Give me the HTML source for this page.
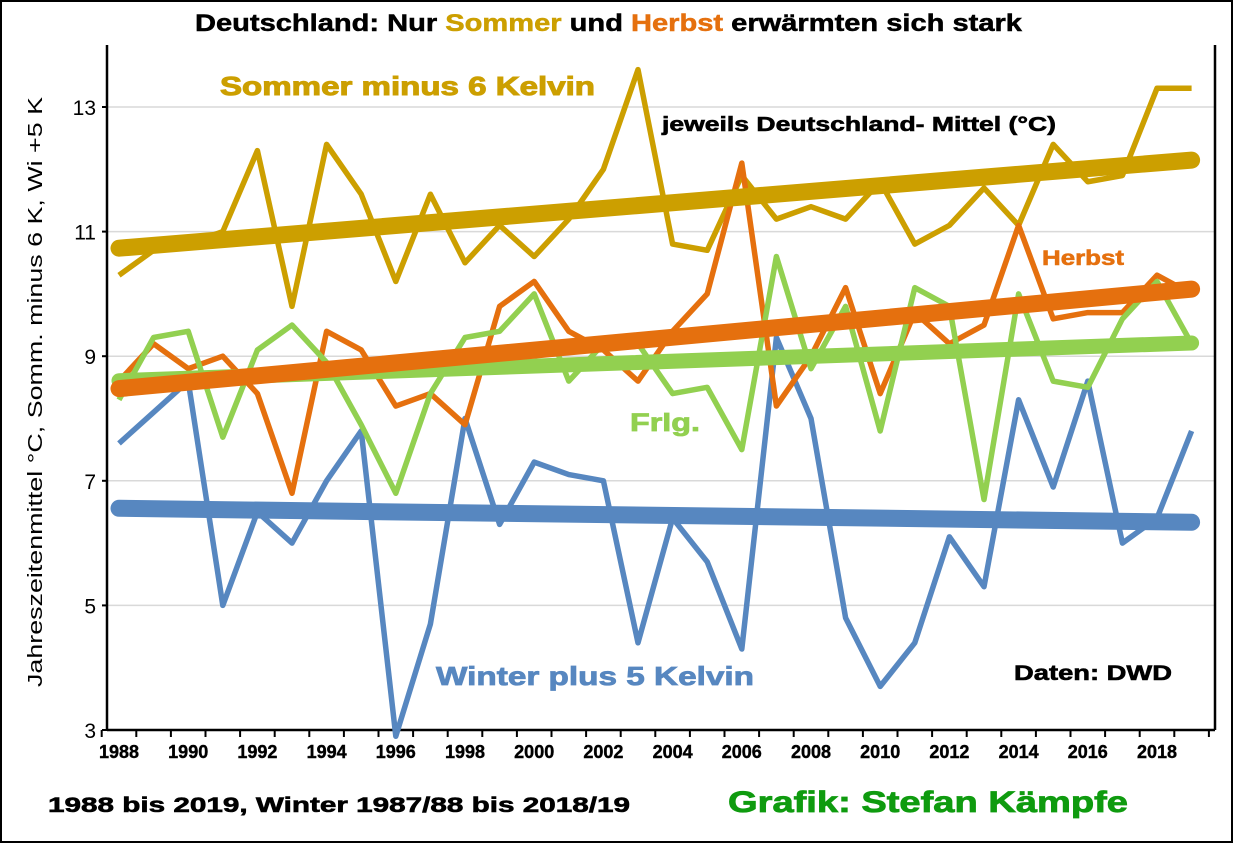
<!DOCTYPE html>
<html><head><meta charset="utf-8"><style>
body{margin:0;background:#fff;}
svg{display:block;font-family:"Liberation Sans",Arial,sans-serif;}
</style></head><body>
<svg id="chart" width="1233" height="843" viewBox="0 0 1233 843">
<rect x="1" y="1" width="1231" height="841" fill="#fff" stroke="#000" stroke-width="2"/>
<text x="195" y="31" textLength="827" lengthAdjust="spacingAndGlyphs" font-size="24" font-weight="bold" fill="#000" stroke="#000" stroke-width="0.5">Deutschland: Nur <tspan fill="#cc9f00" stroke="#cc9f00">Sommer</tspan> und <tspan fill="#e5700e" stroke="#e5700e">Herbst</tspan> erwärmten sich stark</text>
<g id="grid"></g>
<g id="axes"></g>
<g id="series"></g>
<text x="220" y="95" textLength="375" lengthAdjust="spacingAndGlyphs" font-size="26" font-weight="bold" fill="#cc9f00" stroke="#cc9f00" stroke-width="1">Sommer minus 6 Kelvin</text>
<text x="662" y="131" textLength="394" lengthAdjust="spacingAndGlyphs" font-size="20" font-weight="bold" fill="#000" stroke="#000" stroke-width="0.6">jeweils Deutschland- Mittel (°C)</text>
<text x="1042" y="265" textLength="82" lengthAdjust="spacingAndGlyphs" font-size="21" font-weight="bold" fill="#e5700e" stroke="#e5700e" stroke-width="0.6">Herbst</text>
<text x="630" y="431" textLength="70" lengthAdjust="spacingAndGlyphs" font-size="25" font-weight="bold" fill="#92d050" stroke="#92d050" stroke-width="0.8">Frlg.</text>
<text x="436" y="685" textLength="318" lengthAdjust="spacingAndGlyphs" font-size="26" font-weight="bold" fill="#5787c0" stroke="#5787c0" stroke-width="0.8">Winter plus 5 Kelvin</text>
<text x="1014" y="680" textLength="158" lengthAdjust="spacingAndGlyphs" font-size="21" font-weight="bold" fill="#000" stroke="#000" stroke-width="0.6">Daten: DWD</text>
<text x="48" y="812" textLength="582" lengthAdjust="spacingAndGlyphs" font-size="21" font-weight="bold" fill="#000" stroke="#000" stroke-width="0.6">1988 bis 2019, Winter 1987/88 bis 2018/19</text>
<text x="728" y="812" textLength="400" lengthAdjust="spacingAndGlyphs" font-size="30" font-weight="bold" fill="#0f9b0f" stroke="#0f9b0f" stroke-width="0.8">Grafik: Stefan Kämpfe</text>
<text transform="translate(42,392) rotate(-90)" text-anchor="middle" textLength="590" lengthAdjust="spacingAndGlyphs" font-size="20" fill="#000">Jahreszeitenmittel °C, Somm. minus 6 K, Wi +5 K</text>
</svg>
<script>
const years=[1988,1989,1990,1991,1992,1993,1994,1995,1996,1997,1998,1999,2000,2001,2002,2003,2004,2005,2006,2007,2008,2009,2010,2011,2012,2013,2014,2015,2016,2017,2018,2019];
const summer=[10.3,10.7,10.8,11.0,12.3,9.8,12.4,11.6,10.2,11.6,10.5,11.1,10.6,11.2,12.0,13.6,10.8,10.7,11.9,11.2,11.4,11.2,11.8,10.8,11.1,11.7,11.1,12.4,11.8,11.9,13.3,13.3];
const autumn=[8.6,9.2,8.8,9.0,8.4,6.8,9.4,9.1,8.2,8.4,7.9,9.8,10.2,9.4,9.1,8.6,9.4,10.0,12.1,8.2,9.0,10.1,8.4,9.7,9.2,9.5,11.1,9.6,9.7,9.7,10.3,10.0];
const spring=[8.3,9.3,9.4,7.7,9.1,9.5,8.9,7.9,6.8,8.4,9.3,9.4,10.0,8.6,9.2,9.2,8.4,8.5,7.5,10.6,8.8,9.8,7.8,10.1,9.8,6.7,10.0,8.6,8.5,9.6,10.2,9.2];
const winter=[7.6,8.1,8.6,5.0,6.5,6.0,7.0,7.8,2.9,4.7,8.0,6.3,7.3,7.1,7.0,4.4,6.4,5.7,4.3,9.3,8.0,4.8,3.7,4.4,6.1,5.3,8.3,6.9,8.6,6.0,6.4,7.8];
const yTicks=[3,5,7,9,11,13];
const xTickLabels=[1988,1990,1992,1994,1996,1998,2000,2002,2004,2006,2008,2010,2012,2014,2016,2018];

const NS="http://www.w3.org/2000/svg";
const L=107,R=1215,T=45,B=730;
function xs(i){return 119+i*34.6;}
function ys(v){return 730-(v-3)*62.3;}
function mk(tag,attrs,parent){const e=document.createElementNS(NS,tag);for(const k in attrs)e.setAttribute(k,attrs[k]);parent.appendChild(e);return e;}
const grid=document.getElementById('grid'),axes=document.getElementById('axes'),ser=document.getElementById('series');
yTicks.forEach(v=>{
  if(v>3){const g=mk('line',{x1:L,x2:R,y1:ys(v),y2:ys(v),stroke:'#d9d9d9','stroke-width':1.5},grid);
  
  }
  const t=mk('text',{x:96,y:ys(v)+8,'text-anchor':'end','font-size':21},axes);t.textContent=v;
  
  
  const tk=mk('line',{x1:L-5,x2:L,y1:ys(v),y2:ys(v),stroke:'#000','stroke-width':2},axes);
  
  
});
const ya=mk('line',{x1:L,x2:L,y1:T,y2:B,stroke:'#000','stroke-width':2.5},axes);


const xa=mk('line',{x1:L,x2:R,y1:B,y2:B,stroke:'#000','stroke-width':2.5},axes);


const rb=mk('line',{x1:R,x2:R,y1:T,y2:B,stroke:'#000','stroke-width':2.5},axes);


for(let i=0;i<=years.length;i++){const x=xs(i)-17.3;
  const tk=mk('line',{x1:x,x2:x,y1:B,y2:B+7,stroke:'#000','stroke-width':2},axes);
  
  }
xTickLabels.forEach(y=>{const i=years.indexOf(y);
  const t=mk('text',{x:xs(i),y:B+28,'text-anchor':'middle','font-size':18,'font-weight':'bold',stroke:'#000','stroke-width':0.4},axes);t.textContent=y;
  
  });
function trend(d){const n=d.length;let sx=0,sy=0,sxy=0,sxx=0;d.forEach((v,i)=>{sx+=i;sy+=v;sxy+=i*v;sxx+=i*i;});
  const b=(n*sxy-sx*sy)/(n*sxx-sx*sx),a=(sy-b*sx)/n;return [a,a+b*(n-1)];}
function draw(d,color,name,tw){
  const p=d.map((v,i)=>xs(i)+','+ys(v)).join(' ');
  const pl=mk('polyline',{points:p,fill:'none',stroke:color,'stroke-width':5.5,'stroke-linejoin':'round'},ser);
  
  
  return ()=>{const [a,b]=trend(d);
  const tl=mk('line',{x1:xs(0),y1:ys(a),x2:xs(d.length-1),y2:ys(b),stroke:color,'stroke-width':tw,'stroke-linecap':'round'},ser);
  
  };
}
const tW=draw(winter,'#5787c0','winter',17);
const tS=draw(summer,'#cc9f00','summer',17);
const tA=draw(autumn,'#e5700e','autumn',17);
const tF=draw(spring,'#92d050','spring',15);
tW();tS();tF();tA();
</script>
</body></html>
